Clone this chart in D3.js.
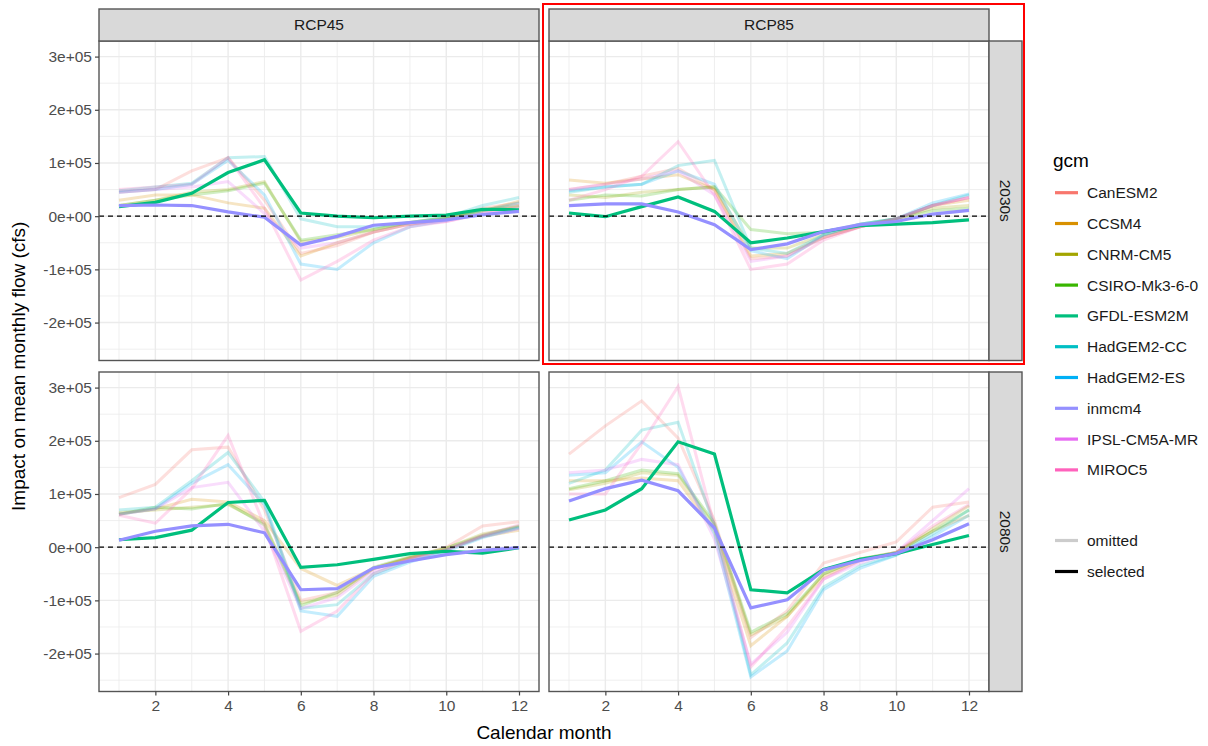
<!DOCTYPE html>
<html><head><meta charset="utf-8">
<script src="https://cdn.jsdelivr.net/npm/d3@7"></script>
<style>
body{margin:0;background:#fff;}
text{font-family:"Liberation Sans",Arial,sans-serif;}
</style></head>
<body><svg id="c" width="1208" height="746"></svg>
<script>
// ---------- data ----------
const months = [1,2,3,4,5,6,7,8,9,10,11,12];
const gcms = ["CanESM2","CCSM4","CNRM-CM5","CSIRO-Mk3-6-0","GFDL-ESM2M","HadGEM2-CC","HadGEM2-ES","inmcm4","IPSL-CM5A-MR","MIROC5"];
const gcmColors = ["#F8766D","#D89000","#A3A500","#39B600","#00BF7D","#00BFC4","#00B0F6","#9590FF","#E76BF3","#FF62BC"];
const selectedGcms = ["GFDL-ESM2M","inmcm4"];
const scenarios = ["RCP45","RCP85"];
const periods = ["2030s","2080s"];
const xTicks = [2,4,6,8,10,12];
const yTicks = [-200000,-100000,0,100000,200000,300000];
const yTickLabels = ["-2e+05","-1e+05","0e+00","1e+05","2e+05","3e+05"];

// values in cfs, rows in gcm order
const rcp45_2030s = [
  [45000,50000,85000,110000,30000,-70000,-55000,-30000,-15000,-5000,15000,25000],
  [30000,40000,40000,25000,15000,-75000,-50000,-30000,-15000,-5000,10000,28000],
  [20000,30000,45000,50000,65000,-48000,-40000,-25000,-12000,-3000,12000,20000],
  [20000,30000,40000,48000,62000,-45000,-35000,-25000,-12000,-3000,10000,18000],
  [18000,26000,43000,82000,106000,6000,0,-3000,0,2000,13000,12000],
  [48000,55000,62000,110000,112000,-5000,-20000,-20000,-12000,-2000,20000,35000],
  [45000,50000,60000,105000,40000,-90000,-100000,-50000,-20000,-8000,10000,25000],
  [20000,21000,20000,8000,-2000,-54000,-38000,-17000,-12000,-7000,3000,9000],
  [45000,50000,55000,65000,5000,-60000,-50000,-30000,-15000,-10000,5000,15000],
  [50000,55000,60000,110000,15000,-120000,-85000,-45000,-20000,-10000,5000,20000]
];
const rcp85_2030s = [
  [50000,60000,75000,90000,50000,-80000,-75000,-40000,-20000,-5000,20000,35000],
  [68000,62000,70000,78000,50000,-75000,-70000,-40000,-20000,-5000,20000,30000],
  [40000,35000,45000,50000,55000,-60000,-60000,-35000,-18000,-5000,15000,20000],
  [30000,40000,38000,50000,55000,-25000,-33000,-30000,-15000,-5000,10000,15000],
  [6000,-1000,18000,36000,9000,-50000,-41000,-29000,-18000,-15000,-12000,-7000],
  [45000,55000,60000,95000,105000,-60000,-70000,-35000,-15000,-5000,20000,40000],
  [48000,55000,60000,85000,60000,-65000,-80000,-35000,-15000,-5000,25000,42000],
  [20000,23000,23000,8000,-16000,-63000,-52000,-29000,-16000,-10000,4000,11000],
  [50000,60000,70000,85000,40000,-85000,-75000,-40000,-20000,-5000,20000,35000],
  [30000,50000,75000,140000,40000,-100000,-90000,-45000,-20000,-5000,20000,35000]
];
const rcp45_2080s = [
  [93000,118000,183000,188000,70000,-100000,-85000,-40000,-20000,0,40000,48000],
  [62000,72000,90000,85000,50000,-40000,-72000,-40000,-20000,-5000,20000,32000],
  [65000,70000,75000,80000,45000,-105000,-90000,-40000,-20000,-2000,25000,38000],
  [62000,75000,72000,82000,42000,-110000,-85000,-38000,-18000,-2000,22000,40000],
  [14000,18000,32000,84000,88000,-38000,-33000,-23000,-12000,-8000,-11000,-1000],
  [70000,75000,125000,178000,85000,-115000,-108000,-50000,-25000,-5000,20000,38000],
  [62000,72000,120000,155000,80000,-120000,-130000,-55000,-28000,-8000,18000,36000],
  [13000,30000,40000,43000,27000,-80000,-78000,-39000,-26000,-14000,-6000,-1000],
  [62000,72000,112000,122000,30000,-115000,-95000,-45000,-22000,-5000,20000,35000],
  [60000,45000,110000,210000,40000,-158000,-120000,-50000,-22000,-5000,22000,42000]
];
const rcp85_2080s = [
  [175000,228000,275000,205000,50000,-170000,-120000,-30000,-10000,10000,75000,85000],
  [125000,125000,130000,125000,30000,-185000,-130000,-55000,-25000,-10000,30000,60000],
  [108000,120000,140000,135000,40000,-165000,-130000,-50000,-22000,-10000,35000,78000],
  [110000,125000,145000,138000,45000,-160000,-125000,-50000,-22000,-10000,30000,70000],
  [51000,70000,110000,198000,175000,-80000,-86000,-42000,-23000,-12000,5000,22000],
  [120000,145000,220000,235000,40000,-240000,-180000,-75000,-35000,-15000,25000,70000],
  [135000,140000,198000,150000,25000,-244000,-195000,-80000,-40000,-15000,20000,60000],
  [87000,110000,126000,106000,36000,-114000,-99000,-43000,-25000,-12000,14000,44000],
  [140000,145000,165000,155000,15000,-220000,-160000,-60000,-30000,-10000,50000,110000],
  [100000,100000,195000,302000,40000,-225000,-150000,-60000,-25000,-10000,40000,80000]
];
const panelData = [[rcp45_2030s, rcp85_2030s],[rcp45_2080s, rcp85_2080s]];

// ---------- layout ----------
const svg = d3.select("#c");
svg.append("rect").attr("width",1208).attr("height",746).attr("fill","#fff");
const colX = [99, 549], panelW = 440;
const rowY = [41, 372], panelH = 319.5;
const stripTop = 9, stripRightW = 33;

const allVals = panelData.flat(3);
const [vmin, vmax] = d3.extent(allVals);
const ex = (vmax - vmin) * 0.05;
const yDomain = [vmin - ex, vmax + ex];
const xDomain = [1 - 0.55, 12 + 0.55];

panelData.forEach((row, ri) => {
  row.forEach((vals, ci) => {
    const x0 = colX[ci], y0 = rowY[ri];
    const x = d3.scaleLinear().domain(xDomain).range([x0, x0 + panelW]);
    const y = d3.scaleLinear().domain(yDomain).range([y0 + panelH, y0]);
    const g = svg.append("g");
    // minor grid
    const yMinor = yTicks.map(t => t + 50000).concat([yTicks[0] - 50000]).filter(v => v > yDomain[0] && v < yDomain[1]);
    g.selectAll(".ymin").data(yMinor).join("line")
      .attr("x1", x0).attr("x2", x0 + panelW).attr("y1", d => y(d)).attr("y2", d => y(d))
      .attr("stroke", "#EBEBEB").attr("stroke-width", 0.8);
    const xMinor = [1,3,5,7,9,11];
    g.selectAll(".xmin").data(xMinor).join("line")
      .attr("y1", y0).attr("y2", y0 + panelH).attr("x1", d => x(d)).attr("x2", d => x(d))
      .attr("stroke", "#EBEBEB").attr("stroke-width", 0.8);
    // major grid
    g.selectAll(".ymaj").data(yTicks).join("line")
      .attr("x1", x0).attr("x2", x0 + panelW).attr("y1", d => y(d)).attr("y2", d => y(d))
      .attr("stroke", "#EBEBEB").attr("stroke-width", 1.4);
    g.selectAll(".xmaj").data(xTicks).join("line")
      .attr("y1", y0).attr("y2", y0 + panelH).attr("x1", d => x(d)).attr("x2", d => x(d))
      .attr("stroke", "#EBEBEB").attr("stroke-width", 1.4);

    const line = d3.line().x((d, i) => x(months[i])).y(d => y(d));
    const order = gcms.map((n, i) => i).filter(i => !selectedGcms.includes(gcms[i]))
      .concat(selectedGcms.map(n => gcms.indexOf(n)));
    order.forEach(i => {
      const sel = selectedGcms.includes(gcms[i]);
      g.append("path").datum(vals[i]).attr("d", line)
        .attr("fill", "none").attr("stroke", gcmColors[i])
        .attr("stroke-width", sel ? 3.2 : 3)
        .attr("stroke-opacity", sel ? 1 : 0.23)
        .attr("stroke-linejoin", "miter");
    });
    // zero line
    g.append("line").attr("x1", x0).attr("x2", x0 + panelW).attr("y1", y(0)).attr("y2", y(0))
      .attr("stroke", "#000").attr("stroke-width", 1.2).attr("stroke-dasharray", "5,4");
    // border
    g.append("rect").attr("x", x0).attr("y", y0).attr("width", panelW).attr("height", panelH)
      .attr("fill", "none").attr("stroke", "#555").attr("stroke-width", 1.4);

    if (ci === 0) {
      const ax = d3.axisLeft(y).tickValues(yTicks).tickFormat((d, i) => yTickLabels[i]).tickSize(4).tickPadding(3);
      const a = svg.append("g").attr("transform", `translate(${x0},0)`).call(ax);
      a.select(".domain").remove();
      a.selectAll(".tick line").attr("stroke", "#444").attr("stroke-width", 1.2);
      a.selectAll("text").attr("fill", "#4D4D4D").style("font-size", "15.5px").style("font-family", "'Liberation Sans',Arial,sans-serif");
    }
    if (ri === 1) {
      const ax = d3.axisBottom(x).tickValues(xTicks).tickSize(4).tickPadding(4);
      const a = svg.append("g").attr("transform", `translate(0,${y0 + panelH})`).call(ax);
      a.select(".domain").remove();
      a.selectAll(".tick line").attr("stroke", "#444").attr("stroke-width", 1.2);
      a.selectAll("text").attr("fill", "#4D4D4D").style("font-size", "15.5px").style("font-family", "'Liberation Sans',Arial,sans-serif");
    }
    if (ri === 0) {
      svg.append("rect").attr("x", x0).attr("y", stripTop).attr("width", panelW).attr("height", y0 - stripTop)
        .attr("fill", "#D9D9D9").attr("stroke", "#555").attr("stroke-width", 1.4);
      svg.append("text").attr("x", x0 + panelW / 2).attr("y", (stripTop + y0) / 2).attr("dy", "0.35em")
        .attr("text-anchor", "middle").attr("fill", "#1A1A1A").style("font-size", "15.5px").text(scenarios[ci]);
    }
    if (ci === 1) {
      const sx = x0 + panelW;
      svg.append("rect").attr("x", sx).attr("y", y0).attr("width", stripRightW).attr("height", panelH)
        .attr("fill", "#D9D9D9").attr("stroke", "#555").attr("stroke-width", 1.4);
      const cx = sx + stripRightW / 2, cy = y0 + panelH / 2;
      svg.append("text").attr("transform", `translate(${cx},${cy}) rotate(90)`).attr("dy", "0.35em")
        .attr("text-anchor", "middle").attr("fill", "#1A1A1A").style("font-size", "15.5px").text(periods[ri]);
    }
  });
});

// axis titles
svg.append("text").attr("x", (colX[0] + colX[1] + panelW) / 2).attr("y", 739)
  .attr("text-anchor", "middle").attr("fill", "#000").style("font-size", "19px").text("Calendar month");
svg.append("text").attr("transform", `translate(25,${(rowY[0] + rowY[1] + panelH) / 2}) rotate(-90)`)
  .attr("text-anchor", "middle").attr("fill", "#000").style("font-size", "19px").text("Impact on mean monthly flow (cfs)");

// legend
const lg = svg.append("g");
lg.append("text").attr("x", 1053).attr("y", 167).attr("fill", "#000").style("font-size", "19px").text("gcm");
const legItems = gcms.map((n, i) => ({label: n, color: gcmColors[i]}));
const legStatus = [{label: "omitted", color: "#CCCCCC"}, {label: "selected", color: "#000000"}];
const addItem = (d, yy) => {
  lg.append("line").attr("x1", 1055).attr("x2", 1078).attr("y1", yy).attr("y2", yy)
    .attr("stroke", d.color).attr("stroke-width", 3.2);
  lg.append("text").attr("x", 1087).attr("y", yy).attr("dy", "0.35em").attr("fill", "#1A1A1A")
    .style("font-size", "15.5px").text(d.label);
};
legItems.forEach((d, i) => addItem(d, 192.7 + i * 30.8));
legStatus.forEach((d, i) => addItem(d, 540.5 + i * 31));

// highlight frame
svg.append("rect").attr("x", 543).attr("y", 4).attr("width", 481).attr("height", 360)
  .attr("fill", "none").attr("stroke", "#FF0000").attr("stroke-width", 2);
</script></body></html>
